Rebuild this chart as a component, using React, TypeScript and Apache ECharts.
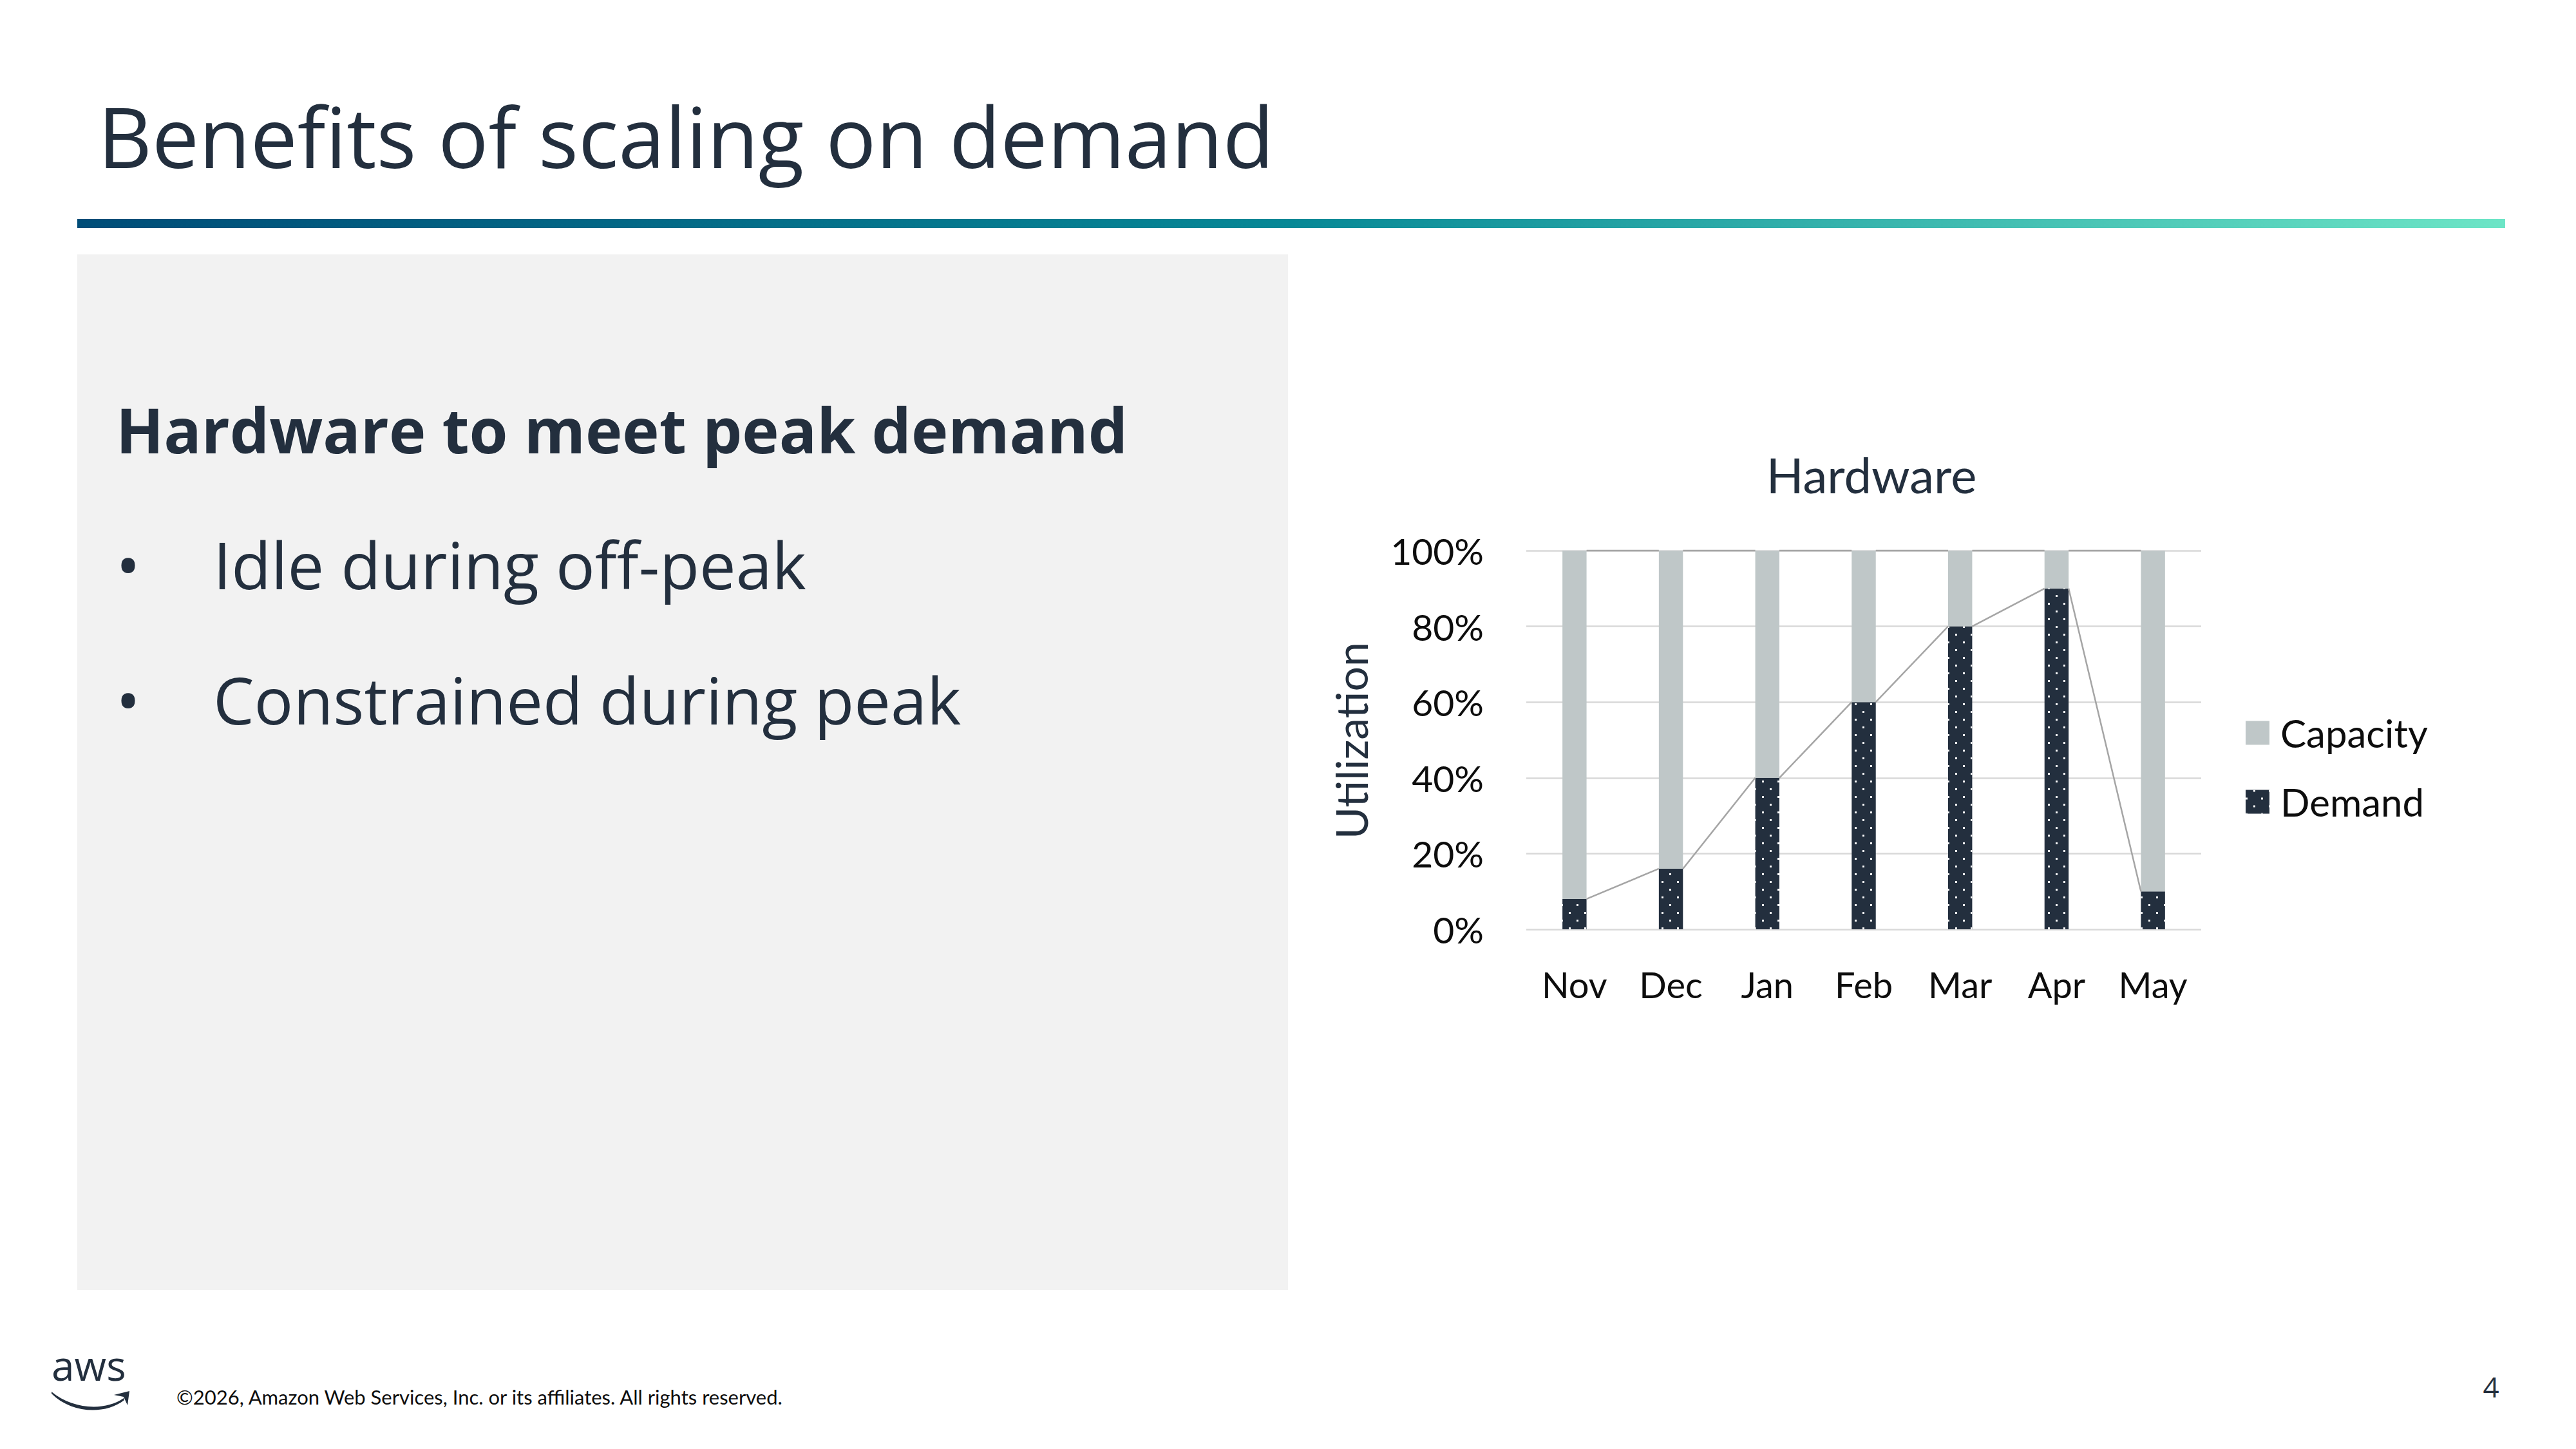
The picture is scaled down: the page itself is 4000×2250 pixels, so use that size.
import React, { useEffect, useRef } from "react";
import * as echarts from "echarts";

const MONTHS = ["Nov", "Dec", "Jan", "Feb", "Mar", "Apr", "May"];
const DEMAND = [8, 16, 40, 60, 80, 90, 10];
const CAPACITY = [92, 84, 60, 40, 20, 10, 90];
const SERIES_NAMES = ["Capacity", "Demand"];
const BULLETS = ["Idle during off-peak", "Constrained during peak"];

const NAVY = "#232F3E";
const CAP_COLOR = "#BFC7C8";
const LINE_COLOR = "#A5A5A5";

const SMILE_D =
  "M0 1 C32 28 82 32 112 11 L113 14 C82 38 30 34 0 4 Z M97 6 L121 0 L118 22 L112 9 Z";

echarts.graphic.registerShape("awsSmile", echarts.graphic.extendPath(SMILE_D, {}));

function mid(baseline: number, fs: number) {
  return baseline - 0.388 * fs;
}

export default function App() {
  const ref = useRef<HTMLDivElement>(null);
  useEffect(() => {
    if (!ref.current) return;
    const chart = echarts.init(ref.current, undefined, { renderer: "svg" });

    const demandLinks = DEMAND.slice(0, -1).map((v, i) => [i, v, DEMAND[i + 1]]);
    const totals = DEMAND.map((d, i) => d + CAPACITY[i]);
    const topLinks = totals.slice(0, -1).map((v, i) => [i, v, totals[i + 1]]);

    const renderLink = (params: any, api: any) => {
      const i = api.value(0);
      const p0 = api.coord([i, api.value(1)]);
      const p1 = api.coord([i + 1, api.value(2)]);
      const half = api.size([1, 0])[0] * 0.125;
      return {
        type: "line",
        shape: { x1: p0[0] + half, y1: p0[1], x2: p1[0] - half, y2: p1[1] },
        style: { stroke: LINE_COLOR, lineWidth: 2.5 },
      };
    };

    const option: any = {
      animation: false,
      backgroundColor: "#FFFFFF",
      grid: {
        left: 2370,
        top: 855,
        width: 1048,
        height: 588,
        containLabel: false,
        outerBoundsMode: "none",
      },
      legend: {
        data: SERIES_NAMES,
        orient: "vertical",
        left: 3487,
        top: 1108,
        itemWidth: 37,
        itemHeight: 37,
        itemGap: 47,
        icon: "rect",
        padding: 0,
        textStyle: {
          fontFamily: "Lato",
          fontSize: 60,
          color: "#0D0D0D",
          padding: [0, 0, 0, 12],
        },
      },
      xAxis: {
        type: "category",
        data: MONTHS,
        axisLine: { show: false },
        axisTick: { show: false },
        axisLabel: {
          fontFamily: "Lato",
          fontSize: 56,
          color: "#0D0D0D",
          margin: 57,
        },
      },
      yAxis: {
        type: "value",
        min: 0,
        max: 100,
        interval: 20,
        axisLine: { show: false },
        axisTick: { show: false },
        axisLabel: {
          formatter: "{value}%",
          fontFamily: "Lato",
          fontSize: 57,
          color: "#0D0D0D",
          margin: 66,
        },
        splitLine: { lineStyle: { color: "#D9D9D9", width: 2.5 } },
      },
      series: [
        {
          name: "Demand",
          type: "bar",
          stack: "total",
          barWidth: "25%",
          data: DEMAND,
          itemStyle: {
            color: NAVY,
            decal: {
              symbol: "rect",
              symbolSize: 1,
              color: "#FFFFFF",
              dashArrayX: [
                [3, 21],
                [0, 12, 3, 9],
              ],
              dashArrayY: [3, 9],
              rotation: 0,
            },
          },
        },
        {
          name: "Capacity",
          type: "bar",
          stack: "total",
          barWidth: "25%",
          data: CAPACITY,
          itemStyle: { color: CAP_COLOR },
        },
        {
          name: "demandLinks",
          type: "custom",
          data: demandLinks,
          encode: { x: 0, y: [1, 2] },
          renderItem: renderLink,
          z: 5,
          silent: true,
        },
        {
          name: "topLinks",
          type: "custom",
          data: topLinks,
          encode: { x: 0, y: [1, 2] },
          renderItem: renderLink,
          z: 5,
          silent: true,
        },
      ],
      graphic: [
        {
          type: "rect",
          z: -10,
          shape: { x: 120, y: 395, width: 1880, height: 1608 },
          style: { fill: "#F2F2F2" },
        },
        {
          type: "rect",
          shape: { x: 120, y: 340, width: 3770, height: 14 },
          style: {
            fill: new echarts.graphic.LinearGradient(0, 0, 1, 0, [
              { offset: 0, color: "#004D78" },
              { offset: 0.5, color: "#078896" },
              { offset: 1, color: "#6DE5C6" },
            ]),
          },
        },
        {
          type: "text",
          x: 152,
          y: mid(261, 130),
          style: {
            text: "Benefits of scaling on demand",
            fontFamily: "Open Sans",
            fontSize: 130,
            fill: NAVY,
            align: "left",
            verticalAlign: "middle",
          },
        },
        {
          type: "text",
          x: 180,
          y: mid(704, 97),
          style: {
            text: "Hardware to meet peak demand",
            fontFamily: "Open Sans",
            fontWeight: "bold",
            fontSize: 97,
            fill: NAVY,
            align: "left",
            verticalAlign: "middle",
          },
        },
        ...BULLETS.flatMap((b, i) => {
          const base = 915 + i * 210;
          return [
            {
              type: "text",
              x: 180,
              y: mid(base, 101),
              style: {
                text: "•",
                fontFamily: "Open Sans",
                fontSize: 101,
                fill: NAVY,
                align: "left",
                verticalAlign: "middle",
              },
            },
            {
              type: "text",
              x: 331,
              y: mid(base, 101),
              style: {
                text: b,
                fontFamily: "Open Sans",
                fontSize: 101,
                fill: NAVY,
                align: "left",
                verticalAlign: "middle",
              },
            },
          ];
        }),
        {
          type: "text",
          x: 2906,
          y: mid(766, 76),
          style: {
            text: "Hardware",
            fontFamily: "Lato",
            fontSize: 76,
            fill: NAVY,
            align: "center",
            verticalAlign: "middle",
          },
        },
        {
          type: "text",
          x: 2097,
          y: 1150,
          rotation: Math.PI / 2,
          style: {
            text: "Utilization",
            fontFamily: "Lato",
            fontSize: 68,
            fill: NAVY,
            align: "center",
            verticalAlign: "middle",
          },
        },
        {
          type: "text",
          x: 80,
          y: mid(2144, 64),
          style: {
            text: "aws",
            fontFamily: "Open Sans",
            fontSize: 64,
            fill: NAVY,
            align: "left",
            verticalAlign: "middle",
          },
        },
        {
          type: "awsSmile",
          x: 80,
          y: 2160,
          scaleX: 1,
          scaleY: 1,
          style: { fill: NAVY },
        },
        {
          type: "text",
          x: 274,
          y: mid(2181, 31),
          style: {
            text: "©2026, Amazon Web Services, Inc. or its affiliates. All rights reserved.",
            fontFamily: "Lato",
            fontSize: 31,
            fill: "#0D0D0D",
            align: "left",
            verticalAlign: "middle",
          },
        },
        {
          type: "text",
          x: 3868,
          y: mid(2170, 44),
          style: {
            text: "4",
            fontFamily: "Open Sans",
            fontSize: 44,
            fill: NAVY,
            align: "center",
            verticalAlign: "middle",
          },
        },
      ],
    };

    chart.setOption(option);
    return () => chart.dispose();
  }, []);

  return (
    <div
      ref={ref}
      style={{ position: "absolute", left: 0, top: 0, width: 4000, height: 2250 }}
    />
  );
}
